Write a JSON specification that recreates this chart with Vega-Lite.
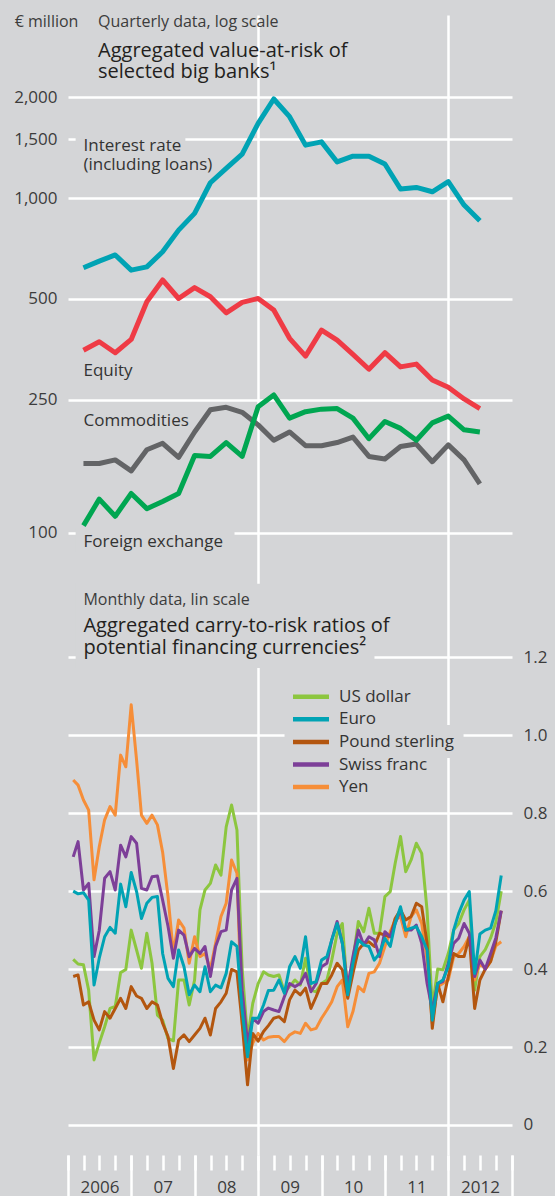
{
  "$schema": "https://vega.github.io/schema/vega-lite/v6.json",
  "width": 444,
  "height": 1140,
  "autosize": {"type": "none"},
  "padding": {"left": 68, "top": 15, "right": 43, "bottom": 41},
  "background": "#d4d5d7",
  "config": {"view": {"stroke": null}, "font": "Open Sans"},
  "datasets": {
    "quarterly": [
      {"date": "2006/03/31", "Interest rate": 619, "Equity": 351, "Commodities": 161, "Foreign exchange": 105},
      {"date": "2006/06/30", "Interest rate": 648, "Equity": 372, "Commodities": 161, "Foreign exchange": 126},
      {"date": "2006/09/30", "Interest rate": 676, "Equity": 345, "Commodities": 165, "Foreign exchange": 112},
      {"date": "2006/12/31", "Interest rate": 609, "Equity": 378, "Commodities": 153, "Foreign exchange": 131},
      {"date": "2007/03/31", "Interest rate": 623, "Equity": 490, "Commodities": 177, "Foreign exchange": 118},
      {"date": "2007/06/30", "Interest rate": 691, "Equity": 569, "Commodities": 185, "Foreign exchange": 124},
      {"date": "2007/09/30", "Interest rate": 802, "Equity": 501, "Commodities": 168, "Foreign exchange": 131},
      {"date": "2007/12/31", "Interest rate": 900, "Equity": 540, "Commodities": 200, "Foreign exchange": 170},
      {"date": "2008/03/31", "Interest rate": 1111, "Equity": 507, "Commodities": 233, "Foreign exchange": 169},
      {"date": "2008/06/30", "Interest rate": 1227, "Equity": 454, "Commodities": 237, "Foreign exchange": 186},
      {"date": "2008/09/30", "Interest rate": 1353, "Equity": 488, "Commodities": 229, "Foreign exchange": 169},
      {"date": "2008/12/31", "Interest rate": 1671, "Equity": 501, "Commodities": 210, "Foreign exchange": 238},
      {"date": "2009/03/31", "Interest rate": 1977, "Equity": 463, "Commodities": 189, "Foreign exchange": 258},
      {"date": "2009/06/30", "Interest rate": 1750, "Equity": 381, "Commodities": 200, "Foreign exchange": 220},
      {"date": "2009/09/30", "Interest rate": 1439, "Equity": 337, "Commodities": 182, "Foreign exchange": 230},
      {"date": "2009/12/31", "Interest rate": 1472, "Equity": 403, "Commodities": 182, "Foreign exchange": 234},
      {"date": "2010/03/31", "Interest rate": 1282, "Equity": 376, "Commodities": 186, "Foreign exchange": 235},
      {"date": "2010/06/30", "Interest rate": 1334, "Equity": 341, "Commodities": 193, "Foreign exchange": 220},
      {"date": "2010/09/30", "Interest rate": 1334, "Equity": 308, "Commodities": 169, "Foreign exchange": 191},
      {"date": "2010/12/31", "Interest rate": 1264, "Equity": 345, "Commodities": 166, "Foreign exchange": 215},
      {"date": "2011/03/31", "Interest rate": 1064, "Equity": 313, "Commodities": 181, "Foreign exchange": 205},
      {"date": "2011/06/30", "Interest rate": 1076, "Equity": 319, "Commodities": 184, "Foreign exchange": 189},
      {"date": "2011/09/30", "Interest rate": 1044, "Equity": 286, "Commodities": 163, "Foreign exchange": 213},
      {"date": "2011/12/31", "Interest rate": 1119, "Equity": 272, "Commodities": 183, "Foreign exchange": 223},
      {"date": "2012/03/31", "Interest rate": 953, "Equity": 251, "Commodities": 165, "Foreign exchange": 203},
      {"date": "2012/06/30", "Interest rate": 855, "Equity": 235, "Commodities": 140, "Foreign exchange": 200}
    ],
    "monthly": [
      {"date": "2006/01/31", "US dollar": 0.425, "Euro": 0.600, "Pound sterling": 0.381, "Swiss franc": 0.688, "Yen": 0.885},
      {"date": "2006/02/28", "US dollar": 0.413, "Euro": 0.593, "Pound sterling": 0.385, "Swiss franc": 0.727, "Yen": 0.872},
      {"date": "2006/03/31", "US dollar": 0.411, "Euro": 0.596, "Pound sterling": 0.308, "Swiss franc": 0.603, "Yen": 0.834},
      {"date": "2006/04/30", "US dollar": 0.346, "Euro": 0.577, "Pound sterling": 0.316, "Swiss franc": 0.620, "Yen": 0.808},
      {"date": "2006/05/31", "US dollar": 0.167, "Euro": 0.359, "Pound sterling": 0.269, "Swiss franc": 0.432, "Yen": 0.629},
      {"date": "2006/06/30", "US dollar": 0.210, "Euro": 0.428, "Pound sterling": 0.244, "Swiss franc": 0.499, "Yen": 0.714},
      {"date": "2006/07/31", "US dollar": 0.252, "Euro": 0.483, "Pound sterling": 0.291, "Swiss franc": 0.633, "Yen": 0.783},
      {"date": "2006/08/31", "US dollar": 0.299, "Euro": 0.507, "Pound sterling": 0.274, "Swiss franc": 0.650, "Yen": 0.817},
      {"date": "2006/09/30", "US dollar": 0.304, "Euro": 0.492, "Pound sterling": 0.299, "Swiss franc": 0.603, "Yen": 0.795},
      {"date": "2006/10/31", "US dollar": 0.391, "Euro": 0.618, "Pound sterling": 0.325, "Swiss franc": 0.718, "Yen": 0.949},
      {"date": "2006/11/30", "US dollar": 0.399, "Euro": 0.560, "Pound sterling": 0.299, "Swiss franc": 0.688, "Yen": 0.919},
      {"date": "2006/12/31", "US dollar": 0.500, "Euro": 0.648, "Pound sterling": 0.355, "Swiss franc": 0.740, "Yen": 1.078},
      {"date": "2007/01/31", "US dollar": 0.449, "Euro": 0.599, "Pound sterling": 0.331, "Swiss franc": 0.723, "Yen": 0.936},
      {"date": "2007/02/28", "US dollar": 0.402, "Euro": 0.530, "Pound sterling": 0.325, "Swiss franc": 0.607, "Yen": 0.795},
      {"date": "2007/03/31", "US dollar": 0.492, "Euro": 0.569, "Pound sterling": 0.299, "Swiss franc": 0.603, "Yen": 0.774},
      {"date": "2007/04/30", "US dollar": 0.415, "Euro": 0.584, "Pound sterling": 0.316, "Swiss franc": 0.637, "Yen": 0.795},
      {"date": "2007/05/31", "US dollar": 0.282, "Euro": 0.586, "Pound sterling": 0.308, "Swiss franc": 0.639, "Yen": 0.770},
      {"date": "2007/06/30", "US dollar": 0.269, "Euro": 0.440, "Pound sterling": 0.261, "Swiss franc": 0.577, "Yen": 0.700},
      {"date": "2007/07/31", "US dollar": 0.222, "Euro": 0.376, "Pound sterling": 0.227, "Swiss franc": 0.510, "Yen": 0.586},
      {"date": "2007/08/31", "US dollar": 0.216, "Euro": 0.355, "Pound sterling": 0.145, "Swiss franc": 0.428, "Yen": 0.440},
      {"date": "2007/09/30", "US dollar": 0.372, "Euro": 0.449, "Pound sterling": 0.218, "Swiss franc": 0.500, "Yen": 0.526},
      {"date": "2007/10/31", "US dollar": 0.372, "Euro": 0.406, "Pound sterling": 0.231, "Swiss franc": 0.487, "Yen": 0.505},
      {"date": "2007/11/30", "US dollar": 0.308, "Euro": 0.334, "Pound sterling": 0.214, "Swiss franc": 0.432, "Yen": 0.415},
      {"date": "2007/12/31", "US dollar": 0.372, "Euro": 0.359, "Pound sterling": 0.231, "Swiss franc": 0.453, "Yen": 0.483},
      {"date": "2008/01/31", "US dollar": 0.552, "Euro": 0.342, "Pound sterling": 0.248, "Swiss franc": 0.440, "Yen": 0.432},
      {"date": "2008/02/29", "US dollar": 0.603, "Euro": 0.406, "Pound sterling": 0.274, "Swiss franc": 0.458, "Yen": 0.440},
      {"date": "2008/03/31", "US dollar": 0.620, "Euro": 0.342, "Pound sterling": 0.231, "Swiss franc": 0.381, "Yen": 0.400},
      {"date": "2008/04/30", "US dollar": 0.667, "Euro": 0.359, "Pound sterling": 0.299, "Swiss franc": 0.458, "Yen": 0.466},
      {"date": "2008/05/31", "US dollar": 0.641, "Euro": 0.352, "Pound sterling": 0.316, "Swiss franc": 0.496, "Yen": 0.535},
      {"date": "2008/06/30", "US dollar": 0.765, "Euro": 0.389, "Pound sterling": 0.338, "Swiss franc": 0.500, "Yen": 0.569},
      {"date": "2008/07/31", "US dollar": 0.821, "Euro": 0.470, "Pound sterling": 0.399, "Swiss franc": 0.603, "Yen": 0.680},
      {"date": "2008/08/31", "US dollar": 0.757, "Euro": 0.458, "Pound sterling": 0.393, "Swiss franc": 0.633, "Yen": 0.646},
      {"date": "2008/09/30", "US dollar": 0.400, "Euro": 0.295, "Pound sterling": 0.261, "Swiss franc": 0.346, "Yen": 0.261},
      {"date": "2008/10/31", "US dollar": 0.222, "Euro": 0.175, "Pound sterling": 0.103, "Swiss franc": 0.210, "Yen": 0.167},
      {"date": "2008/11/30", "US dollar": 0.312, "Euro": 0.274, "Pound sterling": 0.235, "Swiss franc": 0.274, "Yen": 0.210},
      {"date": "2008/12/31", "US dollar": 0.363, "Euro": 0.274, "Pound sterling": 0.215, "Swiss franc": 0.261, "Yen": 0.235},
      {"date": "2009/01/31", "US dollar": 0.393, "Euro": 0.308, "Pound sterling": 0.240, "Swiss franc": 0.291, "Yen": 0.218},
      {"date": "2009/02/28", "US dollar": 0.385, "Euro": 0.345, "Pound sterling": 0.255, "Swiss franc": 0.300, "Yen": 0.225},
      {"date": "2009/03/31", "US dollar": 0.381, "Euro": 0.346, "Pound sterling": 0.274, "Swiss franc": 0.295, "Yen": 0.227},
      {"date": "2009/04/30", "US dollar": 0.385, "Euro": 0.372, "Pound sterling": 0.278, "Swiss franc": 0.291, "Yen": 0.227},
      {"date": "2009/05/31", "US dollar": 0.342, "Euro": 0.338, "Pound sterling": 0.265, "Swiss franc": 0.329, "Yen": 0.214},
      {"date": "2009/06/30", "US dollar": 0.355, "Euro": 0.406, "Pound sterling": 0.321, "Swiss franc": 0.363, "Yen": 0.231},
      {"date": "2009/07/31", "US dollar": 0.372, "Euro": 0.432, "Pound sterling": 0.346, "Swiss franc": 0.355, "Yen": 0.239},
      {"date": "2009/08/31", "US dollar": 0.359, "Euro": 0.402, "Pound sterling": 0.334, "Swiss franc": 0.363, "Yen": 0.235},
      {"date": "2009/09/30", "US dollar": 0.428, "Euro": 0.483, "Pound sterling": 0.351, "Swiss franc": 0.389, "Yen": 0.261},
      {"date": "2009/10/31", "US dollar": 0.346, "Euro": 0.363, "Pound sterling": 0.299, "Swiss franc": 0.342, "Yen": 0.244},
      {"date": "2009/11/30", "US dollar": 0.342, "Euro": 0.368, "Pound sterling": 0.329, "Swiss franc": 0.363, "Yen": 0.248},
      {"date": "2009/12/31", "US dollar": 0.363, "Euro": 0.423, "Pound sterling": 0.363, "Swiss franc": 0.406, "Yen": 0.274},
      {"date": "2010/01/31", "US dollar": 0.372, "Euro": 0.432, "Pound sterling": 0.363, "Swiss franc": 0.415, "Yen": 0.295},
      {"date": "2010/02/28", "US dollar": 0.423, "Euro": 0.475, "Pound sterling": 0.385, "Swiss franc": 0.475, "Yen": 0.316},
      {"date": "2010/03/31", "US dollar": 0.492, "Euro": 0.517, "Pound sterling": 0.415, "Swiss franc": 0.522, "Yen": 0.355},
      {"date": "2010/04/30", "US dollar": 0.517, "Euro": 0.466, "Pound sterling": 0.398, "Swiss franc": 0.466, "Yen": 0.372},
      {"date": "2010/05/31", "US dollar": 0.334, "Euro": 0.334, "Pound sterling": 0.325, "Swiss franc": 0.355, "Yen": 0.252},
      {"date": "2010/06/30", "US dollar": 0.423, "Euro": 0.415, "Pound sterling": 0.389, "Swiss franc": 0.432, "Yen": 0.291},
      {"date": "2010/07/31", "US dollar": 0.522, "Euro": 0.475, "Pound sterling": 0.449, "Swiss franc": 0.500, "Yen": 0.355},
      {"date": "2010/08/31", "US dollar": 0.496, "Euro": 0.462, "Pound sterling": 0.466, "Swiss franc": 0.462, "Yen": 0.342},
      {"date": "2010/09/30", "US dollar": 0.556, "Euro": 0.458, "Pound sterling": 0.470, "Swiss franc": 0.483, "Yen": 0.389},
      {"date": "2010/10/31", "US dollar": 0.492, "Euro": 0.423, "Pound sterling": 0.458, "Swiss franc": 0.475, "Yen": 0.393},
      {"date": "2010/11/30", "US dollar": 0.492, "Euro": 0.440, "Pound sterling": 0.492, "Swiss franc": 0.432, "Yen": 0.415},
      {"date": "2010/12/31", "US dollar": 0.586, "Euro": 0.479, "Pound sterling": 0.487, "Swiss franc": 0.496, "Yen": 0.458},
      {"date": "2011/01/31", "US dollar": 0.599, "Euro": 0.458, "Pound sterling": 0.483, "Swiss franc": 0.483, "Yen": 0.496},
      {"date": "2011/02/28", "US dollar": 0.671, "Euro": 0.517, "Pound sterling": 0.530, "Swiss franc": 0.517, "Yen": 0.526},
      {"date": "2011/03/31", "US dollar": 0.740, "Euro": 0.560, "Pound sterling": 0.552, "Swiss franc": 0.552, "Yen": 0.535},
      {"date": "2011/04/30", "US dollar": 0.650, "Euro": 0.500, "Pound sterling": 0.526, "Swiss franc": 0.500, "Yen": 0.483},
      {"date": "2011/05/31", "US dollar": 0.680, "Euro": 0.505, "Pound sterling": 0.535, "Swiss franc": 0.500, "Yen": 0.535},
      {"date": "2011/06/30", "US dollar": 0.723, "Euro": 0.509, "Pound sterling": 0.569, "Swiss franc": 0.513, "Yen": 0.552},
      {"date": "2011/07/31", "US dollar": 0.697, "Euro": 0.483, "Pound sterling": 0.560, "Swiss franc": 0.466, "Yen": 0.517},
      {"date": "2011/08/31", "US dollar": 0.550, "Euro": 0.449, "Pound sterling": 0.466, "Swiss franc": 0.363, "Yen": 0.423},
      {"date": "2011/09/30", "US dollar": 0.300, "Euro": 0.269, "Pound sterling": 0.248, "Swiss franc": 0.295, "Yen": 0.261},
      {"date": "2011/10/31", "US dollar": 0.400, "Euro": 0.363, "Pound sterling": 0.363, "Swiss franc": 0.363, "Yen": 0.355},
      {"date": "2011/11/30", "US dollar": 0.398, "Euro": 0.372, "Pound sterling": 0.316, "Swiss franc": 0.368, "Yen": 0.363},
      {"date": "2011/12/31", "US dollar": 0.440, "Euro": 0.406, "Pound sterling": 0.381, "Swiss franc": 0.415, "Yen": 0.372},
      {"date": "2012/01/31", "US dollar": 0.500, "Euro": 0.500, "Pound sterling": 0.440, "Swiss franc": 0.466, "Yen": 0.432},
      {"date": "2012/02/29", "US dollar": 0.517, "Euro": 0.543, "Pound sterling": 0.432, "Swiss franc": 0.479, "Yen": 0.440},
      {"date": "2012/03/31", "US dollar": 0.552, "Euro": 0.577, "Pound sterling": 0.432, "Swiss franc": 0.517, "Yen": 0.458},
      {"date": "2012/04/30", "US dollar": 0.577, "Euro": 0.599, "Pound sterling": 0.483, "Swiss franc": 0.492, "Yen": 0.483},
      {"date": "2012/05/31", "US dollar": 0.346, "Euro": 0.389, "Pound sterling": 0.299, "Swiss franc": 0.381, "Yen": 0.372},
      {"date": "2012/06/30", "US dollar": 0.432, "Euro": 0.490, "Pound sterling": 0.372, "Swiss franc": 0.423, "Yen": 0.415},
      {"date": "2012/07/31", "US dollar": 0.450, "Euro": 0.500, "Pound sterling": 0.400, "Swiss franc": 0.400, "Yen": 0.400},
      {"date": "2012/08/31", "US dollar": 0.480, "Euro": 0.505, "Pound sterling": 0.420, "Swiss franc": 0.440, "Yen": 0.420},
      {"date": "2012/09/30", "US dollar": 0.520, "Euro": 0.550, "Pound sterling": 0.470, "Swiss franc": 0.480, "Yen": 0.460},
      {"date": "2012/10/31", "US dollar": 0.600, "Euro": 0.640, "Pound sterling": 0.550, "Swiss franc": 0.550, "Yen": 0.470}
    ],
    "topMasks": [
      {"x": "2006/02/14", "x2": "2007/11/08", "y": 1430, "y2": 1560},
      {"x": "2006/02/14", "x2": "2008/08/17", "y": 88, "y2": 103}
    ],
    "bottomMasks": [
      {"x": "2006/02/14", "x2": "2010/11/01", "y": 1.1725, "y2": 1.389},
      {"x": "2009/06/01", "x2": "2012/03/28", "y": 0.9416, "y2": 1.0263}
    ],
    "topLabels": [
      {"label": "Interest rate\n(including loans)", "date": "2006/03/31", "value": 1507},
      {"label": "Equity", "date": "2006/03/31", "value": 320.9},
      {"label": "Commodities", "date": "2006/03/31", "value": 227.2},
      {"label": "Foreign exchange", "date": "2006/03/31", "value": 99.45}
    ],
    "topNotes": [
      {"label": "€ million", "date": "2005/02/28", "value": 3346},
      {"label": "Quarterly data, log scale", "date": "2006/06/23", "value": 3346}
    ],
    "topTitle": [
      {"label": "Aggregated value-at-risk of\nselected big banks¹", "date": "2006/06/23", "value": 2947}
    ],
    "bottomNotes": [
      {"label": "Monthly data, lin scale", "date": "2006/03/31", "value": 1.346}
    ],
    "bottomTitle": [
      {"label": "Aggregated carry-to-risk ratios of\npotential financing currencies²", "date": "2006/03/31", "value": 1.3047}
    ]
  },
  "layer": [
    {
      "data": {"name": "topMasks"},
      "mark": {"type": "rect", "fill": "#d4d5d7"},
      "encoding": {
        "x": {"field": "x", "type": "temporal", "axis": null},
        "x2": {"field": "x2"},
        "y": {"field": "y", "type": "quantitative", "scale": {"type": "log", "domain": [1.3825, 3523], "nice": false}, "axis": null},
        "y2": {"field": "y2"}
      }
    },
    {
      "data": {"name": "bottomMasks"},
      "mark": {"type": "rect", "fill": "#d4d5d7"},
      "encoding": {
        "x": {"field": "x", "type": "temporal", "axis": null},
        "x2": {"field": "x2"},
        "y": {"field": "y", "type": "quantitative", "scale": {"domain": [-0.077, 2.848], "nice": false, "zero": false}, "axis": null},
        "y2": {"field": "y2"}
      }
    },
    {
      "data": {"name": "quarterly"},
      "transform": [{"fold": ["Interest rate", "Equity", "Commodities", "Foreign exchange"], "as": ["risk", "var"]}],
      "mark": {"type": "line", "strokeWidth": 5, "strokeJoin": "round"},
      "encoding": {
        "x": {
          "field": "date", "type": "temporal",
          "scale": {"domain": [{"year": 2006, "month": 1, "date": 1}, {"year": 2013, "month": 1, "date": 1}], "nice": false},
          "axis": {
            "orient": "bottom", "title": null, "domain": false,
            "tickCount": {"interval": "month", "step": 3},
            "tickSize": 15, "tickWidth": 2.5, "tickColor": "white",
            "grid": true, "gridColor": "white", "gridWidth": 2.5,
            "gridOpacity": {"condition": {"test": "month(datum.value) == 0 && (year(datum.value) == 2009 || year(datum.value) == 2012)", "value": 1}, "value": 0},
            "labelExpr": "month(datum.value) == 6 ? ((year(datum.value) == 2006 || year(datum.value) == 2012) ? timeFormat(datum.value, '%Y') : timeFormat(datum.value, '%y')) : ''",
            "labelFontSize": 17, "labelColor": "#3c3c3c", "labelPadding": 9,
            "labelOverlap": false, "labelFlush": false, "labelBound": false
          }
        },
        "y": {
          "field": "var", "type": "quantitative",
          "scale": {"type": "log", "domain": [1.3825, 3523], "nice": false},
          "axis": {
            "orient": "left", "title": null, "values": [100, 250, 500, 1000, 1500, 2000], "format": ",",
            "domain": false, "ticks": false, "grid": true, "gridColor": "white", "gridWidth": 2.5,
            "labelFontSize": 17, "labelColor": "#3c3c3c", "labelPadding": 11, "labelFlush": false
          }
        },
        "color": {
          "field": "risk", "type": "nominal",
          "scale": {"domain": ["Interest rate", "Equity", "Commodities", "Foreign exchange"], "range": ["#00a3b4", "#ef3b45", "#636466", "#00a651"]},
          "legend": null
        }
      }
    },
    {
      "data": {"name": "monthly"},
      "transform": [{"fold": ["US dollar", "Yen", "Pound sterling", "Swiss franc", "Euro"], "as": ["currency", "ratio"]}],
      "mark": {"type": "line", "strokeWidth": 3, "strokeJoin": "round"},
      "encoding": {
        "x": {
          "field": "date", "type": "temporal",
          "scale": {"domain": [{"year": 2006, "month": 1, "date": 1}, {"year": 2013, "month": 1, "date": 1}], "nice": false},
          "axis": {
            "orient": "bottom", "title": null, "domain": false, "labels": false, "grid": false,
            "tickCount": {"interval": "year", "step": 1},
            "tickSize": 41, "tickWidth": 2.5, "tickColor": "white"
          }
        },
        "y": {
          "field": "ratio", "type": "quantitative",
          "scale": {"domain": [-0.077, 2.848], "nice": false, "zero": false},
          "axis": {
            "orient": "right", "title": null, "values": [0, 0.2, 0.4, 0.6, 0.8, 1, 1.2],
            "labelExpr": "datum.value == 0 ? '0' : format(datum.value, '.1f')",
            "domain": false, "ticks": false, "grid": true, "gridColor": "white", "gridWidth": 2.5,
            "labelFontSize": 17, "labelColor": "#3c3c3c", "labelPadding": 11, "labelFlush": false
          }
        },
        "color": {
          "field": "currency", "type": "nominal",
          "scale": {"domain": ["US dollar", "Euro", "Pound sterling", "Swiss franc", "Yen"], "range": ["#8cc63f", "#00a3b4", "#b3560f", "#7d3f98", "#f68e38"]},
          "legend": {
            "orient": "none", "legendX": 227, "legendY": 665.7, "title": null, "direction": "vertical",
            "symbolType": "M-2.4,0H2.4", "symbolSize": 225, "symbolStrokeWidth": 4.5,
            "labelFontSize": 17, "labelColor": "#333333", "labelOffset": 18, "labelLimit": 0,
            "rowPadding": 3.6, "padding": 6
          }
        }
      }
    },
    {
      "data": {"name": "topLabels"},
      "mark": {"type": "text", "align": "left", "baseline": "top", "fontSize": 17, "lineBreak": "\n", "lineHeight": 19, "fill": "#333333"},
      "encoding": {
        "x": {"field": "date", "type": "temporal", "axis": null},
        "y": {"field": "value", "type": "quantitative", "scale": {"type": "log", "domain": [1.3825, 3523], "nice": false}, "axis": null},
        "text": {"field": "label"}
      }
    },
    {
      "data": {"name": "topNotes"},
      "mark": {"type": "text", "align": "left", "baseline": "middle", "fontSize": 16, "fill": "#3c3c3c"},
      "encoding": {
        "x": {"field": "date", "type": "temporal", "axis": null},
        "y": {"field": "value", "type": "quantitative", "scale": {"type": "log", "domain": [1.3825, 3523], "nice": false}, "axis": null},
        "text": {"field": "label"}
      }
    },
    {
      "data": {"name": "topTitle"},
      "mark": {"type": "text", "align": "left", "baseline": "top", "fontSize": 20, "fontWeight": 500, "lineBreak": "\n", "lineHeight": 21, "fill": "#231f20"},
      "encoding": {
        "x": {"field": "date", "type": "temporal", "axis": null},
        "y": {"field": "value", "type": "quantitative", "scale": {"type": "log", "domain": [1.3825, 3523], "nice": false}, "axis": null},
        "text": {"field": "label"}
      }
    },
    {
      "data": {"name": "bottomNotes"},
      "mark": {"type": "text", "align": "left", "baseline": "middle", "fontSize": 16, "fill": "#3c3c3c"},
      "encoding": {
        "x": {"field": "date", "type": "temporal", "axis": null},
        "y": {"field": "value", "type": "quantitative", "scale": {"domain": [-0.077, 2.848], "nice": false, "zero": false}, "axis": null},
        "text": {"field": "label"}
      }
    },
    {
      "data": {"name": "bottomTitle"},
      "mark": {"type": "text", "align": "left", "baseline": "top", "fontSize": 20, "fontWeight": 500, "lineBreak": "\n", "lineHeight": 22, "fill": "#231f20"},
      "encoding": {
        "x": {"field": "date", "type": "temporal", "axis": null},
        "y": {"field": "value", "type": "quantitative", "scale": {"domain": [-0.077, 2.848], "nice": false, "zero": false}, "axis": null},
        "text": {"field": "label"}
      }
    }
  ],
  "resolve": {
    "scale": {"y": "independent", "color": "independent"},
    "axis": {"x": "independent", "y": "independent"}
  }
}
